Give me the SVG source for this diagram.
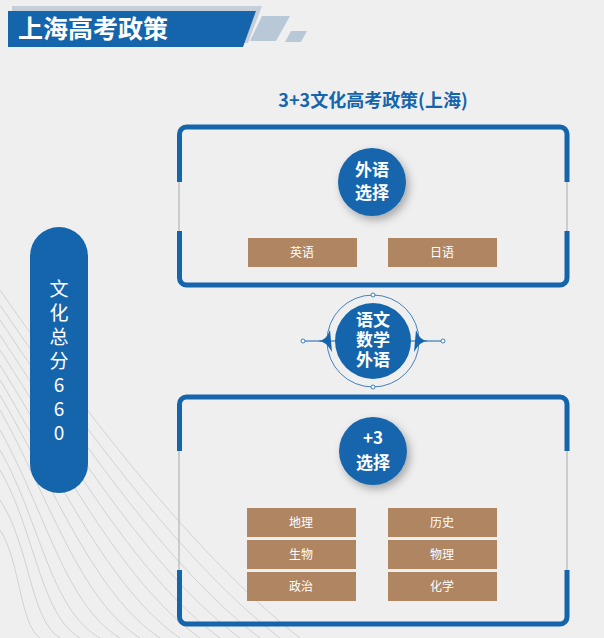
<svg xmlns="http://www.w3.org/2000/svg" width="604" height="638" viewBox="0 0 604 638">
<style>
.f{font-family:"Noto Sans CJK SC","Liberation Sans",sans-serif}
.tag{fill:#b08562}
.tt{fill:#fff;font-size:12px;text-anchor:middle}
.ct{fill:#fff;font-size:17px;font-weight:bold;text-anchor:middle}
.fr{fill:none;stroke:#1565ad;stroke-width:5;stroke-linecap:butt}
.gl{stroke:#aaa;stroke-width:1}
.bg{fill:none;stroke:#c8cacc;stroke-width:0.8}
</style>
<defs><filter id="sh" x="-30%" y="-30%" width="170%" height="170%"><feDropShadow dx="3" dy="4" stdDeviation="4" flood-color="#000" flood-opacity="0.3"/></filter></defs>
<rect width="604" height="638" fill="#efefef"/>
<g id="bglines">
<path class="bg" d="M0,290 C90,420 200,560 300,638"/>
<path class="bg" d="M0,305 C85,430 185,565 280,638"/>
<path class="bg" d="M0,320 C80,440 170,570 260,638"/>
<path class="bg" d="M0,335 C75,450 155,575 240,638"/>
<path class="bg" d="M0,350 C70,460 140,580 220,638"/>
<path class="bg" d="M0,365 C65,470 125,585 200,638"/>
<path class="bg" d="M0,380 C60,480 110,590 180,638"/>
<path class="bg" d="M0,395 C55,490 95,595 160,638"/>
<path class="bg" d="M0,410 C50,500 80,600 140,638"/>
<path class="bg" d="M0,430 C45,510 65,605 120,638"/>
<path class="bg" d="M0,450 C40,520 50,610 100,638"/>
<path class="bg" d="M0,470 C35,530 40,615 80,638"/>
<path class="bg" d="M0,500 C30,545 30,620 60,638"/>
<path class="bg" d="M0,530 C20,560 20,625 40,638"/>
</g>
<g id="title">
<polygon points="12,6 262,6 248,43 12,43" fill="#c5cfd9"/>
<polygon points="8,11 256,11 243,47 8,47" fill="#1565ad"/>
<polygon points="262,16 290,16 276,41 250,41" fill="#b9c8d6"/>
<polygon points="291,31 307,31 301,42 285,42" fill="#b9c8d6"/>
<text class="f" x="18" y="38" font-size="25" font-weight="bold" fill="#fff">上海高考政策</text>
</g>
<text class="f" x="373" y="107" font-size="18" font-weight="bold" fill="#1565ad" text-anchor="middle">3+3文化高考政策(上海)</text>
<g id="total">
<rect x="30" y="227" width="58" height="266" rx="29" fill="#1565ad"/>
<text class="f" font-size="19" fill="#fff" text-anchor="middle"><tspan x="59" y="296">文</tspan><tspan x="59" y="320">化</tspan><tspan x="59" y="344">总</tspan><tspan x="59" y="368">分</tspan><tspan x="59" y="392">6</tspan><tspan x="59" y="416">6</tspan><tspan x="59" y="440">0</tspan></text>
</g>
<g id="box1">
<line class="gl" x1="179" y1="182" x2="179" y2="232"/>
<line class="gl" x1="567" y1="182" x2="567" y2="232"/>
<path class="fr" d="M179.5,182 V134 a7,7 0 0 1 7,-7 H560 a7,7 0 0 1 7,7 V182"/>
<path class="fr" d="M179.5,231 V278 a7,7 0 0 0 7,7 H560 a7,7 0 0 0 7,-7 V231"/>
<circle cx="372" cy="182" r="34" fill="#1565ad" filter="url(#sh)"/>
<text class="f ct" x="372" y="176">外语</text>
<text class="f ct" x="372" y="199">选择</text>
<rect class="tag" x="248" y="238" width="109" height="29"/>
<text class="f tt" x="302" y="257">英语</text>
<rect class="tag" x="388" y="238" width="109" height="29"/>
<text class="f tt" x="442" y="257">日语</text>
</g>
<g id="core">
<circle cx="373" cy="341" r="46" fill="none" stroke="#1565ad" stroke-width="0.8"/>
<circle cx="373" cy="295" r="2" fill="#fff" stroke="#1565ad" stroke-width="0.8"/>
<circle cx="373" cy="387" r="2" fill="#fff" stroke="#1565ad" stroke-width="0.8"/>
<path d="M305,341 H318 Q326,341 330,330 L332,352 Q326,341 318,341 Z" fill="#1565ad"/>
<path d="M441,341 H428 Q420,341 416,330 L414,352 Q420,341 428,341 Z" fill="#1565ad"/>
<line x1="305" y1="341" x2="441" y2="341" stroke="#1565ad" stroke-width="1"/>
<circle cx="303" cy="341" r="2" fill="#fff" stroke="#1565ad" stroke-width="0.8"/>
<circle cx="443" cy="341" r="2" fill="#fff" stroke="#1565ad" stroke-width="0.8"/>
<circle cx="373" cy="341" r="38" fill="#1565ad"/>
<text class="f ct" x="373" y="326" font-size="13">语文</text>
<text class="f ct" x="373" y="346" font-size="13">数学</text>
<text class="f ct" x="373" y="366" font-size="13">外语</text>
</g>
<g id="box2">
<line class="gl" x1="179" y1="450" x2="179" y2="572"/>
<line class="gl" x1="567" y1="450" x2="567" y2="572"/>
<path class="fr" d="M179.5,451 V404 a7,7 0 0 1 7,-7 H560 a7,7 0 0 1 7,7 V451"/>
<path class="fr" d="M179.5,570 V617 a7,7 0 0 0 7,7 H560 a7,7 0 0 0 7,-7 V570"/>
<circle cx="373" cy="451" r="34" fill="#1565ad" filter="url(#sh)"/>
<text class="f ct" x="373" y="444">+3</text>
<text class="f ct" x="373" y="469">选择</text>
<rect class="tag" x="247" y="508" width="109" height="29"/><text class="f tt" x="301" y="527">地理</text>
<rect class="tag" x="247" y="540" width="109" height="29"/><text class="f tt" x="301" y="559">生物</text>
<rect class="tag" x="247" y="572" width="109" height="29"/><text class="f tt" x="301" y="591">政治</text>
<rect class="tag" x="388" y="508" width="109" height="29"/><text class="f tt" x="442" y="527">历史</text>
<rect class="tag" x="388" y="540" width="109" height="29"/><text class="f tt" x="442" y="559">物理</text>
<rect class="tag" x="388" y="572" width="109" height="29"/><text class="f tt" x="442" y="591">化学</text>
</g>
</svg>
